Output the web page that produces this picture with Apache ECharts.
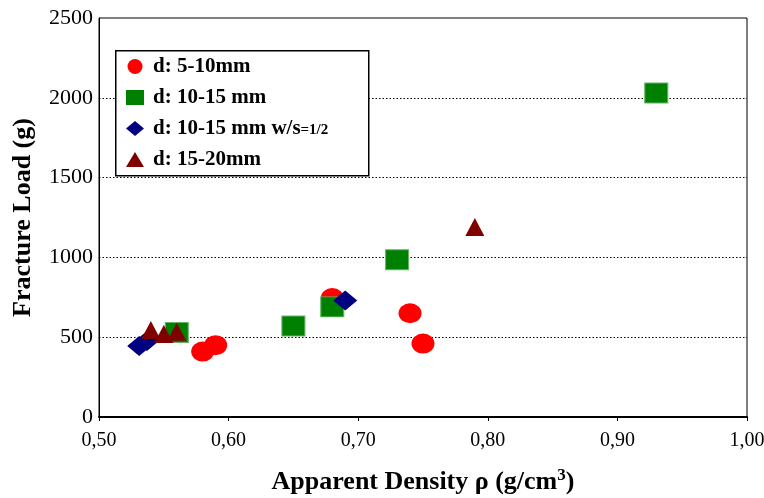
<!DOCTYPE html>
<html><head><meta charset="utf-8">
<script src="https://cdn.jsdelivr.net/npm/echarts@6/dist/echarts.min.js"></script>
<style>html,body{margin:0;padding:0;background:#fff}#c{width:764px;height:498px}</style>
</head><body><div id="c"></div>
<script>
// Data: [apparent density, fracture load]
const d5_10 = [[0.58,410],[0.59,450],[0.68,745],[0.74,650],[0.75,460]];
const d10_15 = [[0.56,530],[0.65,570],[0.68,690],[0.73,985],[0.93,2030]];
const d10_15ws = [[0.531,445],[0.537,476],[0.69,730]];
const d15_20 = [[0.54,545],[0.55,520],[0.56,534],[0.79,1190]];
const seriesNames = ['d: 5-10mm','d: 10-15 mm','d: 10-15 mm w/s=1/2','d: 15-20mm'];
const xTickLabels = {'0.5':'0,50','0.6':'0,60','0.7':'0,70','0.8':'0,80','0.9':'0,90','1':'1,00'};
const yTicks = [0,500,1000,1500,2000,2500];

const serif = '"Liberation Serif","Times New Roman",serif';
const chart = echarts.init(document.getElementById('c'));
chart.setOption({
  animation:false,
  backgroundColor:'#fff',
  grid:{left:99,right:17,top:18,bottom:81,show:true,borderColor:'#000',borderWidth:1,
    backgroundColor:'transparent',containLabel:false,outerBoundsMode:'none'},
  xAxis:{type:'value',min:0.5,max:1.0,interval:0.1,
    name:'Apparent Density ρ (g/cm{sup|3})',nameLocation:'middle',nameGap:50,
    nameTextStyle:{fontFamily:serif,fontWeight:'bold',fontSize:26,color:'#000',
      rich:{sup:{fontFamily:serif,fontWeight:'bold',fontSize:17,color:'#000',padding:[0,0,14,0]}}},
    axisLine:{show:true,lineStyle:{color:'#000',width:2}},
    axisTick:{show:true,length:4,lineStyle:{color:'#000'}},
    axisLabel:{fontFamily:serif,fontSize:20,color:'#000',margin:14,
      formatter:v=>xTickLabels[String(Math.round(v*10)/10)]||v.toFixed(2).replace('.',',')},
    splitLine:{show:false}},
  yAxis:{type:'value',min:0,max:2500,interval:500,
    name:'Fracture Load (g)',nameLocation:'middle',nameGap:63,
    nameTextStyle:{fontFamily:serif,fontWeight:'bold',fontSize:26,color:'#000'},
    axisLine:{show:true,lineStyle:{color:'#000',width:1}},
    axisTick:{show:false},
    axisLabel:{fontFamily:serif,fontSize:22,color:'#000',margin:6,
      formatter:v=>yTicks.indexOf(v)>=0?String(v):''},
    splitLine:{show:true,showMinLine:false,showMaxLine:false,lineStyle:{color:'#000',type:[1.5,2],width:1}}},
  legend:{orient:'vertical',left:121,top:51,itemWidth:18,itemHeight:15,itemGap:10,z:10,
    data:[
      {name:seriesNames[0],icon:'circle'},
      {name:seriesNames[1],icon:'rect',itemStyle:{borderWidth:0}},
      {name:seriesNames[2],icon:'diamond'},
      {name:seriesNames[3],icon:'triangle'}],
    formatter:n=>n===seriesNames[2]?'{a|d: 10-15 mm w/s}{s|=1/2}':'{a|'+n+'}',
    textStyle:{fontFamily:serif,fontWeight:'bold',fontSize:21,color:'#000',
      rich:{a:{fontFamily:serif,fontWeight:'bold',fontSize:21,color:'#000',padding:[0,0,0,4]},
            s:{fontFamily:serif,fontWeight:'bold',fontSize:15,color:'#000',padding:[3,0,0,0]}}}},
  graphic:[{type:'rect',left:115,top:50,shape:{width:253,height:125},
    style:{fill:'#fff',stroke:'#000',lineWidth:1.5},z:3}],
  series:[
    {name:seriesNames[0],type:'scatter',data:d5_10,symbol:'circle',symbolSize:[23,20],
      itemStyle:{color:'#ff0000',opacity:1},z:2},
    {name:seriesNames[1],type:'scatter',data:d10_15,symbol:'rect',symbolSize:[23,20],
      itemStyle:{color:'#008000',borderColor:'#66b366',borderWidth:1,opacity:1},z:2},
    {name:seriesNames[2],type:'scatter',data:d10_15ws,symbol:'diamond',symbolSize:[24,20],
      itemStyle:{color:'#000080',opacity:1},z:2},
    {name:seriesNames[3],type:'scatter',data:d15_20,symbol:'triangle',symbolSize:[19,18],
      itemStyle:{color:'#800000',opacity:1},z:2}
  ]
});
</script></body></html>
